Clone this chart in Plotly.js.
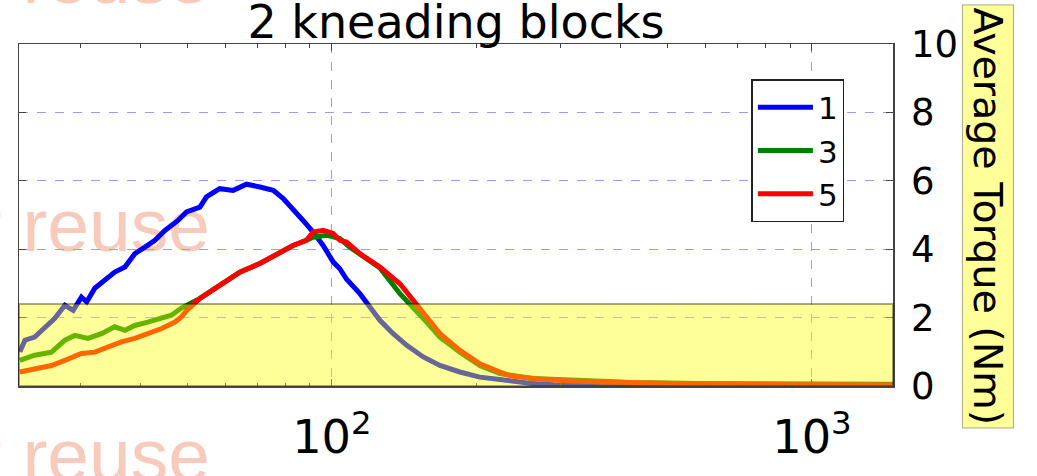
<!DOCTYPE html>
<html>
<head>
<meta charset="utf-8">
<script src="https://cdn.plot.ly/plotly-3.0.1.min.js"></script>
<style>html,body{margin:0;padding:0;background:#fff;}#chart{width:1037px;height:476px;}</style>
</head>
<body>
<div id="chart"></div>
<script>
// Series 1 (blue)
const x1 = [22.39,22.94,24.04,25.24,26.48,27.79,28.92,30.09,30.86,32.07,33.66,35.3,37.06,38.87,40.8,42.8,44.9,47.8,49.8,53.1,54.8,58.4,62.3,66.4,70.8,75.5,79.2,83.0,87.1,91.4,95.9,100.6,103.9,107.3,114.4,120.0,125.9,134.2,143.2,155.0,167.9,184.8,203.3,223.9,246.4,262.3,290,350,500,1000,1475];
const y1 = [1.0,1.34,1.43,1.73,1.98,2.36,2.21,2.6,2.46,2.86,3.09,3.33,3.48,3.87,4.06,4.26,4.55,4.84,5.09,5.23,5.53,5.77,5.72,5.9,5.82,5.72,5.48,5.14,4.84,4.5,4.11,3.63,3.43,3.12,2.7,2.31,1.92,1.53,1.19,0.85,0.6,0.41,0.26,0.19,0.12,0.07,0.04,0.02,0.01,0.01,0.01];
// Series 3 (green)
const x3 = [22.39,24.04,26.06,27.79,29.15,31.04,33.12,35.3,37.06,38.87,41.36,44.2,46.3,48.6,53.1,58.4,64.3,70.8,77.9,83.0,88.5,91.4,97.5,103.9,109.0,114.4,125.9,138.6,147.7,157.5,167.9,184.8,203.3,223.9,262.3,308.2,361.6,423.7,584,944,1475];
const y3 = [0.75,0.9,0.99,1.34,1.48,1.39,1.53,1.73,1.63,1.77,1.87,1.97,2.07,2.28,2.56,2.94,3.33,3.58,3.92,4.11,4.26,4.35,4.41,4.31,4.06,3.85,3.45,2.7,2.31,1.87,1.43,0.99,0.6,0.36,0.22,0.18,0.12,0.1,0.07,0.05,0.05];
// Series 5 (red)
const x5 = [22.39,24.04,26.06,27.79,30.09,32.07,34.14,36.46,38.87,41.36,44.2,47.1,48.6,49.8,53.1,58.4,64.3,70.8,77.9,83.0,88.5,91.4,95.9,100.6,103.9,107.3,114.4,125.9,138.6,147.7,157.5,167.9,184.8,203.3,223.9,234.9,262.3,308.2,361.6,459.8,584,944,1475];
const y5 = [0.41,0.51,0.6,0.75,0.95,0.99,1.14,1.29,1.39,1.53,1.68,1.87,2.02,2.2,2.56,2.94,3.33,3.58,3.92,4.11,4.26,4.5,4.55,4.46,4.26,4.21,3.87,3.48,2.99,2.51,2.02,1.53,1.04,0.65,0.41,0.3,0.22,0.15,0.12,0.09,0.06,0.04,0.03];

const seriesNames = ['1','3','5'];
const seriesColors = ['#0000ff','#008000','#ff0000'];
const titleText = '2 kneading blocks';
const yTitleText = 'Average Torque (Nm)';
const watermarkText = 'for reuse';
const bandTop = 2.4;

const FONT = 'DejaVu Sans, sans-serif';

const traces = [[x1,y1],[x3,y3],[x5,y5]].map((d,i)=>({
  x: d[0], y: d[1], type:'scatter', mode:'lines', name: seriesNames[i],
  line:{color: seriesColors[i], width:5}
}));

function wm(yc){
  return {type:'rect', xref:'paper', yref:'paper', x0:-0.6, x1:0.2254, y0:yc-0.01, y1:yc+0.01,
    line:{width:0}, fillcolor:'rgba(0,0,0,0)', layer:'below',
    label:{text: watermarkText, textposition:'middle right', textangle:0,
      font:{family:'Liberation Sans Narrow, Liberation Sans, sans-serif', size:75, color:'#f8cabb'}}};
}

const layout = {
  width:1037, height:476,
  margin:{l:19, r:144, t:44, b:90},
  paper_bgcolor:'#ffffff', plot_bgcolor:'#ffffff',
  showlegend:true,
  title:{text:titleText, font:{family:FONT, size:46, color:'#000'}, x:0.5, xref:'paper', y:0.955, yref:'container', yanchor:'middle'},
  xaxis:{type:'log', range:[Math.log10(22.3), Math.log10(1475)], dtick:1,
    exponentformat:'power', showexponent:'all',
    showgrid:true, gridcolor:'#9999ff', griddash:'dash', gridwidth:1,
    showline:true, linecolor:'#444', linewidth:1.5, mirror:'ticks',
    ticks:'inside', ticklen:7, tickcolor:'#444',
    minor:{ticks:'inside', ticklen:3.5, dtick:'D1', tickcolor:'#444', showgrid:false},
    tickfont:{family:FONT, size:37, color:'#000'}, ticklabelstandoff:12, zeroline:false},
  yaxis:{range:[0,10], side:'right', dtick:2, tick0:0,
    showgrid:true, gridcolor:'#9999ff', griddash:'dash', gridwidth:1,
    showline:true, linecolor:'#444', linewidth:1.5, mirror:'ticks',
    ticks:'inside', ticklen:7, tickcolor:'#444',
    tickfont:{family:FONT, size:37, color:'#000'}, ticklabelstandoff:9, zeroline:false},
  legend:{x:0.838, y:0.8976, xanchor:'left', yanchor:'top', bgcolor:'#ffffff',
    bordercolor:'#222', borderwidth:1.5, font:{family:FONT, size:31, color:'#000'},
    itemwidth:55},
  shapes:[
    {type:'rect', xref:'paper', yref:'y', x0:0, x1:1, y0:0, y1:bandTop,
      fillcolor:'rgba(255,255,0,0.4)', line:{color:'rgba(0,0,0,0.35)', width:2}, layer:'above'},
    wm(1.215), wm(0.492), wm(-0.181)
  ],
  annotations:[
    {text:yTitleText, xref:'paper', yref:'paper', x:1.109, y:0.495, textangle:90,
      showarrow:false, font:{family:FONT, size:39.5, color:'#000'},
      bgcolor:'#ffff99', bordercolor:'#aaaa88', borderwidth:1, borderpad:2, xanchor:'center', yanchor:'middle'}
  ]
};

Plotly.newPlot('chart', traces, layout, {staticPlot:true, displayModeBar:false});
</script>
</body>
</html>
